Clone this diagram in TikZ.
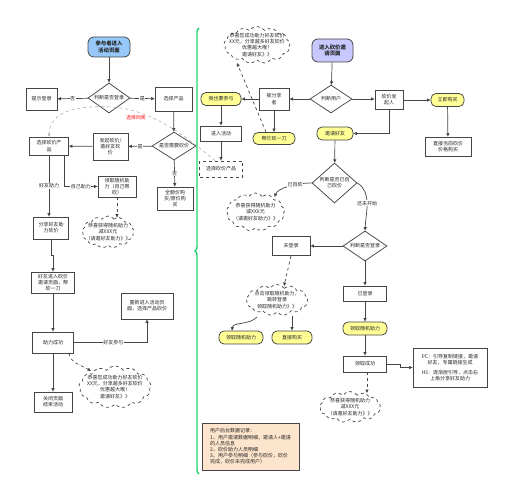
\documentclass[tikz,border=0pt]{standalone}
\usepackage{fontspec}
\newfontfamily\cjk{Noto Sans CJK SC}
\usetikzlibrary{shapes.geometric,shapes.symbols,arrows.meta,decorations.pathreplacing}
\definecolor{bd}{RGB}{70,70,70}
\definecolor{startblue}{RGB}{150,200,250}
\definecolor{startpurple}{RGB}{200,200,255}
\definecolor{yell}{RGB}{255,255,150}
\definecolor{peach}{RGB}{253,228,204}
\definecolor{gline}{RGB}{30,210,110}
\definecolor{gdashc}{RGB}{175,175,175}
\begin{document}
\begin{tikzpicture}[x=1pt,y=-1pt,
  font=\cjk\fontsize{5}{6.2}\selectfont,
  every node/.style={align=center,inner sep=0pt,text=black!85},
  sz/.style 2 args={minimum width=#1pt,minimum height=#2pt},
  box/.style={rectangle,draw=bd,line width=0.75pt,fill=white},
  ybox/.style={rectangle,draw=bd,line width=0.75pt,fill=yell,rounded corners=5pt},
  dbox/.style={box,dashed},
  sbox/.style={rectangle,draw=bd,line width=0.8pt,rounded corners=6pt,font=\cjk\bfseries\fontsize{5.4}{6.6}\selectfont},
  dia/.style={diamond,draw=bd,line width=0.75pt,fill=white},
  cl/.style={cloud,draw=bd,line width=0.7pt,dashed,fill=white,cloud puffs=13,cloud puff arc=110},
  arr/.style={draw=bd,line width=0.7pt,-{Triangle[length=3.5pt,width=3pt]}},
  darr/.style={arr,dashed},
  lab/.style={fill=white,inner sep=0.6pt},
]
\useasboundingbox (0,0) rectangle (512,500);

% ---------------- left part
\node[sbox,fill=startblue,sz={42}{20}] (s1) at (109,47) {参与者进入\\活动页面};
\node[dia,sz={42}{30},label={center:判断是否登录}] (d1) at (109,98) {};
\node[box,sz={31}{22}] (tip) at (41.5,99) {提示登录};
\node[box,sz={37}{24}] (selp) at (173.5,99) {选择产品};
\node[dia,sz={44}{28},label={center:是否需要砍价}] (d2) at (174,146) {};
\node[box,sz={35}{27}] (faqi) at (110.5,146.5) {发起砍价/\\邀好友砍\\价};
\node[box,sz={39}{18}] (lsel) at (49,146) {选择砍价产\\品};
\node[box,sz={38}{21}] (lingqu) at (117,186.5) {领取随机助\\力（自己帮\\砍）};
\node[cl,sz={52}{32}] (cl1) at (108,232) {};
\node at (108,232) {恭喜获得随机助力\\减XXX元\\（请邀好友助力》》};
\node[box,sz={36}{23}] (quan) at (175,198.5) {全额价购\\买/原价购\\买};
\node[box,sz={35}{22}] (share) at (51,228) {分享好友助\\力砍价};
\node[box,sz={43}{21}] (friend) at (53,282.5) {好友进入砍价\\邀请页面，帮\\砍一刀};
\node[box,sz={41}{21}] (succ) at (53,342.5) {助力成功};
\node[box,sz={52}{26}] (renew) at (147,306) {重新进入活动页\\面，选择产品砍价};
\node[cl,sz={72}{42}] (cl2) at (115,387) {};
\node at (115,387) {恭喜您成功助力好友砍价\\XX元，分享越多好友砍价\\优惠越大哦！\\邀请好友》》};
\node[box,sz={38}{20}] (close) at (53,402) {关闭页面\\结束活动};
\node[text=red,font=\cjk\fontsize{4.8}{5.8}\selectfont] (tongl) at (136,118) {选择同类};

\draw[arr] (s1) -- (d1);
\draw[arr] (d1) -- node[lab]{否} (tip);
\draw[arr] (d1) -- node[lab]{是} (selp);
\draw[arr] (selp) -- (d2);
\draw[arr] (d2) -- node[lab]{是} (faqi);
\draw[arr] (faqi) -- (lsel);
\draw[arr] (d2) -- node[lab]{否} (quan);
\draw[arr] (lsel.south) -- node[lab]{好友助力} (lsel.south |- share.north);
\draw[arr] ([xshift=15pt]lsel.south) |- node[lab,pos=0.75]{自己助力} (lingqu.west);
\draw[darr] (lingqu.south) -- ([yshift=-2pt]lingqu.south |- cl1.north);
\draw[arr] (share.south) -- ++(0,16) -| (friend.north);
\draw[arr] (friend) -- (succ);
\draw[arr] (succ.east) -| node[lab,pos=0.27]{好友参与} (renew.south);
\draw[darr] ([xshift=-5pt]succ.south east) .. controls +(2,10) and +(-10,-6) .. ([shift={(-24,-16)}]cl2.center);
\draw[arr] (succ) -- (close);

% ---------------- separator
\draw[gline,line width=1.4pt,decorate,decoration={brace,amplitude=4pt}] (199,474) -- (199,28);

% ---------------- right part
\node[cl,sz={66}{37}] (cl3) at (257,45) {};
\node at (257,45) {恭喜您成功助力好友砍价\\XX元，分享越多好友砍价\\优惠越大哦！\\邀请好友》》};
\node[sbox,fill=startpurple,sz={41}{23}] (s2) at (332.5,50.5) {进入砍价邀\\请页面};
\node[dia,sz={42}{28},label={center:判断用户}] (d3) at (331,99) {};
\node[box,sz={30}{22}] (beifx) at (274,99) {被分享\\者};
\node[ybox,sz={40}{13}] (woye) at (221,99) {我也要参与};
\node[ybox,sz={42}{12}] (bang) at (274,138.5) {帮忙砍一刀};
\node[box,sz={41}{15}] (jinru) at (221,133.5) {进入活动};
\node[dbox,sz={43}{16}] (rsel) at (221,169) {选择砍价产品};
\node[box,sz={28}{19}] (faqr) at (389,100) {砍价发\\起人};
\node[ybox,sz={33}{13}] (buy) at (447.5,100) {立即购买};
\node[box,sz={46}{19}] (direct) at (448,146.5) {直接当前砍价\\价格购买};
\node[ybox,sz={36}{13}] (invite) at (335,133.5) {邀请好友};
\node[dia,sz={45}{40},label={[align=center]center:判断是否已自\\己砍价}] (d4) at (334.5,183) {};
\node[cl,sz={58}{38}] (cl4) at (255.5,212) {};
\node at (255.5,212) {恭喜获得随机助力\\减XXX元\\（请邀好友助力》》};
\node[dia,sz={44}{30},label={center:判断是否登录}] (d5) at (365,246) {};
\node[box,sz={38}{19}] (weidl) at (291,246) {未登录};
\node[cl,sz={62}{31}] (cl5) at (277,300) {};
\node at (277,300) {点击领取随机助力，\\跳转登录\\领取随机助力》》};
\node[ybox,sz={44}{13}] (yl) at (241,337.5) {领取随机助力};
\node[ybox,sz={40}{13}] (zhijie) at (292,337.5) {直接购买};
\node[box,sz={43}{15}] (yidl) at (365,293.5) {已登录};
\node[ybox,sz={44}{13}] (ylR) at (365,328.5) {领取随机助力};
\node[box,sz={43}{16}] (succR) at (365,364) {领取成功};
\node[box,sz={74}{39}] (pc) at (450,367.5) {PC：引导复制链接，邀请\\好友，专属链接生成\\[4pt]H5：逐渐层引导，点击右\\上角分享好友助力};
\node[cl,sz={61}{31}] (cl6) at (350,407) {};
\node at (350,407) {恭喜获得随机助力\\减XXX元\\（请邀好友助力》》};
\node[box,fill=peach,sz={97}{47},align=left] (data) at (250.5,446.5) {用户后台数据记录：\\1、用户邀请数据明细，邀请人+邀请\\的人员信息\\2、砍价助力人员明细\\3、用户参与明细（参与砍价，砍价\\完成，砍价未完成用户）};

\draw[draw=gdashc,line width=0.6pt,dashed,-{Triangle[length=3pt,width=2.6pt]}] ([xshift=-6pt]rsel.north) .. controls (190,140) and (155,110) .. (112,107) .. controls (75,105) and (50,112) .. (lsel.north);

\draw[arr] (s2) -- (d3);
\draw[arr] (d3) -- (beifx);
\draw[arr] (beifx) -- (woye);
\draw[arr] (beifx) -- (bang);
\draw[darr] ([xshift=-8pt]bang.north) -- ([shift={(-20,18)}]cl3.center);
\draw[arr] (woye) -- (jinru);
\draw[arr] (jinru) -- (rsel);
\draw[arr] (d3.east) -- (d3.east -| faqr.west);
\draw[arr] (faqr) -- (buy);
\draw[arr] (buy) -- (direct);
\draw[arr] (faqr.south) |- (invite.east);
\draw[arr] (invite) -- (d4);
\draw[arr] (d4.west) .. controls (296,183) and (278,188) .. node[lab,pos=0.35]{已自砍} ([shift={(19,-15)}]cl4.center);
\draw[arr] (d4.east) .. controls (372,192) and (366,212) .. node[lab,pos=0.5]{还未开始} (d5.north);
\draw[arr] (d5) -- (weidl);
\draw[darr] (weidl.south) -- ([shift={(7,-14)}]cl5.center);
\draw[arr] ([shift={(-20,17)}]cl5.center) .. controls (250,325) and (233,322) .. ([xshift=-9pt]yl.north);
\draw[arr] ([shift={(15,16)}]cl5.center) -- (zhijie.north);
\draw[arr] (d5) -- (yidl);
\draw[arr] (yidl) -- (ylR);
\draw[arr] (ylR) -- (succR);
\draw[arr] (succR.east) -- ++(13,0) |- (pc.west);
\draw[darr] ([xshift=2pt]succR.south) -- ([shift={(17,-14)}]cl6.center);
\end{tikzpicture}
\end{document}
